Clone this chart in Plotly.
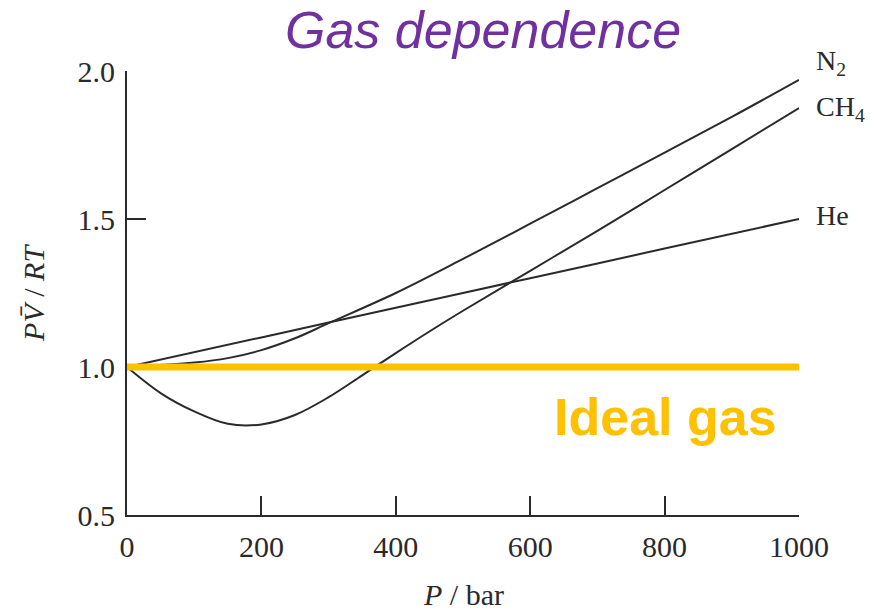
import plotly.graph_objects as go

# Data
P_N2 = [0, 100, 150, 200, 250, 300, 400, 500, 600, 700, 800, 900, 1000]
Z_N2 = [1.0, 1.015, 1.03, 1.057, 1.097, 1.148, 1.25, 1.365, 1.484, 1.604, 1.724, 1.845, 1.97]

P_CH4 = [0, 50, 100, 150, 200, 250, 300, 350, 400, 450, 500, 600, 700, 800, 900, 1000]
Z_CH4 = [1.0, 0.912, 0.85, 0.808, 0.806, 0.838, 0.898, 0.972, 1.047, 1.12, 1.19,
         1.325, 1.46, 1.598, 1.736, 1.875]

P_He = [0, 200, 400, 600, 800, 1000]
Z_He = [1.0, 1.1, 1.2, 1.3, 1.4, 1.5]

P_ideal = [0, 1000]
Z_ideal = [1.0, 1.0]

x_ticks = [0, 200, 400, 600, 800, 1000]
y_ticks = [0.5, 1.0, 1.5, 2.0]
y_ticklabels = ["0.5", "1.0", "1.5", "2.0"]

SERIF = "Liberation Serif"
SANS = "Liberation Sans"
INK = "#2a2a2a"

fig = go.Figure()
line_style = dict(color=INK, width=2, shape="spline", smoothing=1.0)
fig.add_trace(go.Scatter(x=P_ideal, y=Z_ideal, mode="lines",
                         line=dict(color=INK, width=1.5), showlegend=False))
fig.add_trace(go.Scatter(x=P_N2, y=Z_N2, mode="lines", line=line_style, showlegend=False))
fig.add_trace(go.Scatter(x=P_CH4, y=Z_CH4, mode="lines", line=line_style, showlegend=False))
fig.add_trace(go.Scatter(x=P_He, y=Z_He, mode="lines", line=line_style, showlegend=False))

# Yellow ideal gas line
fig.add_shape(type="line", xref="x", yref="y", x0=-6, x1=1003, y0=1.0, y1=1.0,
              line=dict(color="#FFC000", width=7), layer="above")

def yp(v):
    return (v - 0.5) / 1.5

lab_font = dict(family=SERIF, size=28, color=INK)
annotations = [
    dict(x=1.0, y=yp(2.03), xref="paper", yref="paper", text="N<sub>2</sub>", xanchor="left",
         yanchor="middle", xshift=15, showarrow=False, font=lab_font),
    dict(x=1.0, y=yp(1.875), xref="paper", yref="paper", text="CH<sub>4</sub>", xanchor="left",
         yanchor="middle", xshift=15, showarrow=False, font=lab_font),
    dict(x=1.0, y=yp(1.513), xref="paper", yref="paper", text="He", xanchor="left",
         yanchor="middle", xshift=15, showarrow=False, font=lab_font),
    dict(x=802, y=0.83, xref="x", yref="y", text="<b>Ideal gas</b>", xanchor="center",
         yanchor="middle", showarrow=False, font=dict(family=SANS, size=52, color="#FFC000")),
    dict(x=0.53, y=1.092, xref="paper", yref="paper", text="<i>Gas dependence</i>",
         xanchor="center", yanchor="middle", showarrow=False,
         font=dict(family=SANS, size=52, color="#7030A0")),
    dict(x=-0.14, y=0.5, xref="paper", yref="paper", text="<i>P</i><i>V\u0304</i> / <i>RT</i>",
         textangle=-90, xanchor="center", yanchor="middle", showarrow=False,
         font=dict(family=SERIF, size=30, color=INK)),
    dict(x=0.5, y=-0.18, xref="paper", yref="paper", text="<i>P</i> / bar",
         xanchor="center", yanchor="middle", showarrow=False,
         font=dict(family=SERIF, size=30, color=INK)),
]

fig.update_layout(
    width=875, height=613,
    margin=dict(l=127, r=76, t=71, b=98),
    paper_bgcolor="white", plot_bgcolor="white",
    annotations=annotations,
    xaxis=dict(range=[0, 1000], tickvals=x_ticks, ticks="inside", ticklen=19, tickwidth=1.5,
               tickcolor=INK, showline=True, linecolor=INK, linewidth=2, showgrid=False,
               zeroline=False, tickfont=dict(family=SERIF, size=30, color=INK),
               ticklabelstandoff=4),
    yaxis=dict(range=[0.5, 2.0], tickvals=y_ticks, ticktext=y_ticklabels, ticks="inside",
               ticklen=19, tickwidth=1.5, tickcolor=INK, showline=True, linecolor=INK,
               linewidth=2, showgrid=False, zeroline=False,
               tickfont=dict(family=SERIF, size=30, color=INK), ticklabelstandoff=4),
)

fig.write_html("out.html")
